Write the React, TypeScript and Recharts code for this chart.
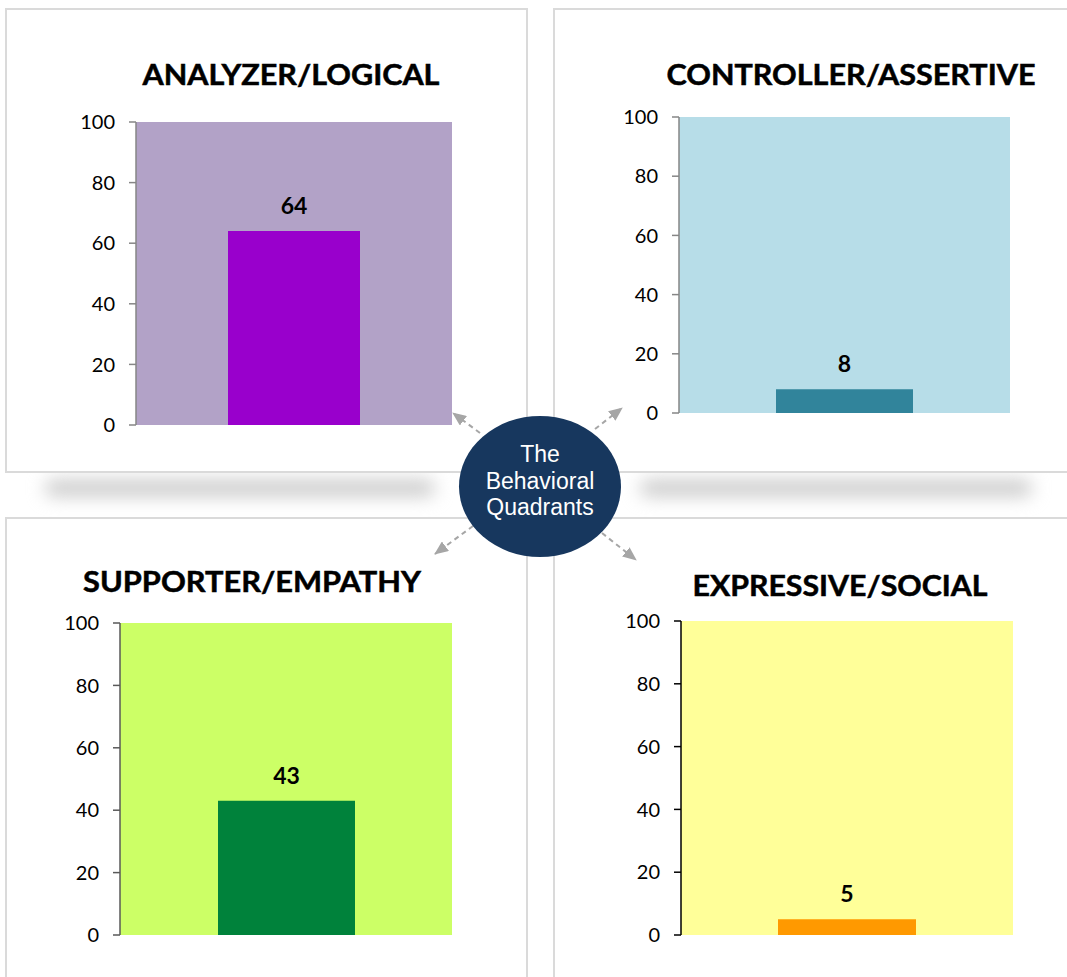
import { BarChart, Bar, XAxis, YAxis, CartesianGrid, LabelList } from 'recharts';

// Quadrant titles, in reading order: top-left, top-right, bottom-left, bottom-right
const categories = ['ANALYZER/LOGICAL', 'CONTROLLER/ASSERTIVE', 'SUPPORTER/EMPATHY', 'EXPRESSIVE/SOCIAL'];
const scores = [64, 8, 43, 5];
const yTicks = [0, 20, 40, 60, 80, 100];
const centerLines = ['The', 'Behavioral', 'Quadrants'];

const plotColors = ['#b2a2c7', '#b7dde8', '#ccff66', '#ffff99'];
const barColors = ['#9900cc', '#31849b', '#00823b', '#ff9900'];
const axisColors = ['#868686', '#868686', '#595959', '#000000'];

// layout of each quadrant (plot rectangle in page pixels)
const layouts = [
  { x0: 136, x1: 452, y0: 122, y1: 425, barSize: 132, titleX: 291, titleY: 85, titleW: 297 },
  { x0: 679, x1: 1010, y0: 117, y1: 413, barSize: 137, titleX: 851, titleY: 85, titleW: 369 },
  { x0: 120, x1: 452, y0: 623, y1: 935, barSize: 137, titleX: 252, titleY: 592, titleW: 338 },
  { x0: 681, x1: 1013, y0: 621, y1: 935, barSize: 138, titleX: 840, titleY: 596, titleW: 295 },
];

const AXIS_W = 80;
const TOP = 40;
const BOTTOM = 16;

function Quadrant({ index }: { index: number }) {
  const l = layouts[index];
  const data = [{ name: categories[index], value: scores[index] }];
  return (
    <div style={{ position: 'absolute', left: l.x0 - AXIS_W, top: l.y0 - TOP }}>
      <BarChart
        width={AXIS_W + (l.x1 - l.x0)}
        height={TOP + (l.y1 - l.y0) + BOTTOM}
        data={data}
        margin={{ top: TOP, right: 0, bottom: BOTTOM, left: 0 }}
        barSize={l.barSize}
      >
        <CartesianGrid horizontal={false} vertical={false} fill={plotColors[index]} stroke="none" />
        <XAxis dataKey="name" hide />
        <YAxis
          width={AXIS_W}
          domain={[0, 100]}
          ticks={yTicks}
          interval={0}
          tickSize={7}
          tickMargin={14}
          axisLine={{ stroke: axisColors[index], strokeWidth: 1.5 }}
          tickLine={{ stroke: axisColors[index], strokeWidth: 1.5 }}
          tick={{ fill: '#000', fontSize: 20, fontFamily: 'Lato' }}
        />
        <Bar dataKey="value" fill={barColors[index]} isAnimationActive={false}>
          <LabelList
            dataKey="value"
            position="top"
            offset={17}
            style={{ fill: '#000', fontSize: 23, fontWeight: 700, fontFamily: 'Lato' }}
          />
        </Bar>
      </BarChart>
    </div>
  );
}

const arrows = [
  { x1: 480, y1: 433, x2: 453, y2: 413 },
  { x1: 595, y1: 429, x2: 622, y2: 408 },
  { x1: 473, y1: 526, x2: 435, y2: 554 },
  { x1: 602, y1: 533, x2: 636, y2: 560 },
];

export default function App() {
  const border = '2px solid #dadada';
  return (
    <div
      style={{
        position: 'absolute',
        left: 0,
        top: 0,
        width: 1067,
        height: 977,
        overflow: 'hidden',
        background: '#fff',
      }}
    >
      {/* soft shadows under the upper panels */}
      <div style={{ position: 'absolute', left: 45, top: 480, width: 390, height: 16, background: '#c8c8c8', filter: 'blur(9px)', borderRadius: 8 }} />
      <div style={{ position: 'absolute', left: 640, top: 480, width: 392, height: 16, background: '#c8c8c8', filter: 'blur(9px)', borderRadius: 8 }} />

      {/* panel frames */}
      <div style={{ position: 'absolute', left: 5, top: 8, width: 523, height: 465, border, boxSizing: 'border-box', background: '#fff' }} />
      <div style={{ position: 'absolute', left: 553, top: 8, width: 600, height: 465, border, boxSizing: 'border-box', background: '#fff' }} />
      <div style={{ position: 'absolute', left: 5, top: 517, width: 523, height: 600, border, boxSizing: 'border-box', background: '#fff' }} />
      <div style={{ position: 'absolute', left: 553, top: 517, width: 600, height: 600, border, boxSizing: 'border-box', background: '#fff' }} />

      {categories.map((_, i) => (
        <Quadrant key={i} index={i} />
      ))}

      <svg width={1067} height={977} style={{ position: 'absolute', left: 0, top: 0 }}>
        <defs>
          <marker id="head" markerWidth={14} markerHeight={12} refX={13} refY={6} orient="auto" markerUnits="userSpaceOnUse">
            <path d="M0,0 L14,6 L0,12 z" fill="#a6a6a6" />
          </marker>
        </defs>
        {layouts.map((l, i) => (
          <text
            key={i}
            x={l.titleX}
            y={l.titleY}
            textAnchor="middle"
            textLength={l.titleW}
            lengthAdjust="spacingAndGlyphs"
            style={{ fontFamily: 'Lato', fontWeight: 700, fontSize: 28.5, fill: '#000', stroke: '#000', strokeWidth: 0.5 }}
          >
            {categories[i]}
          </text>
        ))}
        {arrows.map((a, i) => (
          <line
            key={i}
            x1={a.x1}
            y1={a.y1}
            x2={a.x2}
            y2={a.y2}
            stroke="#a6a6a6"
            strokeWidth={2}
            strokeDasharray="5 4"
            markerEnd="url(#head)"
          />
        ))}
        <ellipse cx={540} cy={486.5} rx={81} ry={70.5} fill="#17375e" />
        {centerLines.map((t, i) => (
          <text
            key={t}
            x={540}
            y={462 + i * 26.5}
            textAnchor="middle"
            style={{ fontFamily: '"Liberation Sans", Arial, sans-serif', fontSize: 23, fill: '#fff' }}
          >
            {t}
          </text>
        ))}
      </svg>
    </div>
  );
}
